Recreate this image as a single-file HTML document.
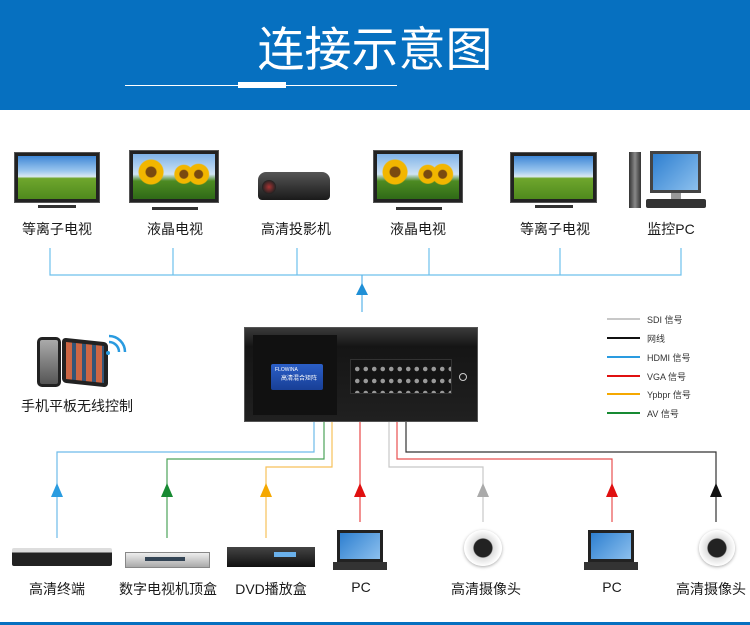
<!DOCTYPE html>
<html><head><meta charset="utf-8">
<style>
*{margin:0;padding:0;box-sizing:border-box}
body{width:750px;height:625px;position:relative;background:#fff;overflow:hidden;font-family:"Liberation Sans","Noto Sans CJK SC",sans-serif;color:#222}
.a{position:absolute}
.lbl{position:absolute;font-size:14px;transform:translateX(-50%);white-space:nowrap;color:#1a1a1a}
.tv{position:absolute;background:#222;border:1px solid #555;padding:3px}
.sky{width:100%;height:100%;background:linear-gradient(#3f87d6 0%,#9cc7ef 35%,#dbe9f3 48%,#6fa62d 52%,#4f8a1d 100%)}
.sun{width:100%;height:100%;background:radial-gradient(circle at 22% 40%,#7a4a10 0 5px,#f2b600 6px 12px,transparent 13px),radial-gradient(circle at 62% 45%,#7a4a10 0 4px,#f2b600 5px 9px,transparent 10px),radial-gradient(circle at 80% 45%,#7a4a10 0 4px,#f2b600 5px 10px,transparent 11px),linear-gradient(#7fb3e8 0%,#cfe3f4 45%,#4d8b22 60%,#2f6a17 100%)}
.stand{position:absolute;height:3px;background:#333}
.leg{position:absolute;left:647px;font-size:9px;color:#333}
.legl{position:absolute;left:607px;width:33px;height:2px}
</style></head><body>
<div class="a" style="left:0;top:0;width:750px;height:110px;background:#0670c0"></div>
<div class="a" style="left:0;top:20px;width:750px;text-align:center;color:#fff;font-size:47px;line-height:52px;font-family:'Noto Sans CJK SC',sans-serif">连接示意图</div>
<div class="a" style="left:125px;top:85px;width:272px;height:1px;background:#fff"></div>
<div class="a" style="left:238px;top:82px;width:48px;height:6px;background:#fff"></div>
<div class="a" style="left:0;top:622px;width:750px;height:3px;background:#0670c0"></div>

<div class="tv" style="left:14px;top:152px;width:86px;height:51px"><div class="sky"></div></div>
<div class="stand" style="left:38px;top:205px;width:38px"></div>
<div class="tv" style="left:129px;top:150px;width:90px;height:53px"><div class="sun"></div></div>
<div class="stand" style="left:152px;top:207px;width:46px"></div>
<div class="a" style="left:258px;top:172px;width:72px;height:28px;background:linear-gradient(#555,#1a1a1a);border-radius:8px 8px 4px 4px"></div>
<div class="a" style="left:262px;top:180px;width:14px;height:14px;border-radius:50%;background:radial-gradient(#a33,#222 70%)"></div>
<div class="tv" style="left:373px;top:150px;width:90px;height:53px"><div class="sun"></div></div>
<div class="stand" style="left:396px;top:207px;width:46px"></div>
<div class="tv" style="left:510px;top:152px;width:87px;height:51px"><div class="sky"></div></div>
<div class="stand" style="left:535px;top:205px;width:38px"></div>
<div class="a" style="left:629px;top:152px;width:12px;height:56px;background:linear-gradient(90deg,#333,#888,#333)"></div>
<div class="a" style="left:650px;top:151px;width:51px;height:42px;background:#444;padding:3px"><div style="width:100%;height:100%;background:linear-gradient(135deg,#2e7fd0,#8cc0ee)"></div></div>
<div class="a" style="left:671px;top:193px;width:10px;height:6px;background:#999"></div>
<div class="a" style="left:646px;top:199px;width:60px;height:9px;background:#333;border-radius:2px"></div>

<div class="lbl" style="left:57px;top:219px">等离子电视</div>
<div class="lbl" style="left:175px;top:219px">液晶电视</div>
<div class="lbl" style="left:296px;top:219px">高清投影机</div>
<div class="lbl" style="left:418px;top:219px">液晶电视</div>
<div class="lbl" style="left:555px;top:219px">等离子电视</div>
<div class="lbl" style="left:671px;top:219px">监控PC</div>

<div class="a" style="left:37px;top:337px;width:24px;height:50px;background:linear-gradient(#aaa,#555);border:3px solid #222;border-radius:5px"></div>
<div class="a" style="left:62px;top:340px;width:46px;height:45px;background:#222;border-radius:4px;transform:skewY(6deg);padding:4px"><div style="width:100%;height:100%;background:repeating-linear-gradient(90deg,#c64 0 6px,#357 6px 10px)"></div></div>
<div class="lbl" style="left:77px;top:396px">手机平板无线控制</div>

<svg class="a" style="left:0;top:0" width="750" height="625">
<g fill="none" stroke-width="1.2">
<path d="M50 248V275H681V248M173 248V275M297 248V275M429 248V275M560 248V275" stroke="#6dc0ec"/>
<path d="M362 275V312" stroke="#5ab4ea"/>
<path d="M314 422V452H57V538" stroke="#6dbbea"/>
<path d="M324 422V459H167V538" stroke="#4ca35a"/>
<path d="M332 422V467H266V538" stroke="#f7c15a"/>
<path d="M360 422V522" stroke="#e84848"/>
<path d="M389 422V467H483V522" stroke="#c8c8c8"/>
<path d="M397 422V459H612V522" stroke="#e85050"/>
<path d="M406 422V452H716V522" stroke="#333"/>
<path d="M109 342a10 10 0 0 1 10 10M109 336a16 16 0 0 1 16 16" stroke="#2a9be0" stroke-width="2.5"/>
</g>
<g>
<path d="M356 295L362 283L368 295Z" fill="#1f8fd6"/>
<path d="M51 497L57 483L63 497Z" fill="#2a9ce0"/>
<path d="M161 497L167 483L173 497Z" fill="#178a32"/>
<path d="M260 497L266 483L272 497Z" fill="#f5a800"/>
<path d="M354 497L360 483L366 497Z" fill="#e01010"/>
<path d="M477 497L483 483L489 497Z" fill="#aaa"/>
<path d="M606 497L612 483L618 497Z" fill="#e01010"/>
<path d="M710 497L716 483L722 497Z" fill="#111"/>
<circle cx="108" cy="353" r="2" fill="#2a9be0"/>
</g>
</svg>

<div class="a" style="left:244px;top:327px;width:234px;height:95px;background:linear-gradient(#3a3a3a,#151515 20%,#202020);border:1px solid #555"></div>
<div class="a" style="left:253px;top:335px;width:84px;height:80px;background:#111"></div>
<div class="a" style="left:271px;top:364px;width:52px;height:26px;background:linear-gradient(#2b5fc8,#183f96);border-radius:2px;color:#fff;font-size:5px;padding:3px 4px">FLOWINA<br><span style="font-size:6px;margin-left:6px">高清混合矩阵</span></div>
<div class="a" style="left:350px;top:359px;width:102px;height:35px;background:#141414;border:1px solid #333;background-image:radial-gradient(circle,#999 0 2px,transparent 2.5px);background-size:8.5px 12px;background-position:2px 3px"></div>
<div class="a" style="left:459px;top:373px;width:8px;height:8px;border-radius:50%;border:1.5px solid #ccc"></div>

<div class="legl" style="top:318px;background:#c8c8c8"></div><div class="leg" style="top:313px">SDI 信号</div>
<div class="legl" style="top:337px;background:#111"></div><div class="leg" style="top:332px">网线</div>
<div class="legl" style="top:356px;background:#2a9be0"></div><div class="leg" style="top:351px">HDMI 信号</div>
<div class="legl" style="top:375px;background:#e01010"></div><div class="leg" style="top:370px">VGA 信号</div>
<div class="legl" style="top:393px;background:#f5a800"></div><div class="leg" style="top:388px">Ypbpr 信号</div>
<div class="legl" style="top:412px;background:#178a32"></div><div class="leg" style="top:407px">AV 信号</div>

<div class="a" style="left:12px;top:548px;width:100px;height:18px;background:linear-gradient(#ddd 0 25%,#222 26%);border-radius:2px"></div>
<div class="a" style="left:125px;top:552px;width:85px;height:16px;background:linear-gradient(#eee,#aaa);border:1px solid #888"></div>
<div class="a" style="left:145px;top:557px;width:40px;height:4px;background:#345"></div>
<div class="a" style="left:227px;top:547px;width:88px;height:20px;background:linear-gradient(#444,#111)"></div>
<div class="a" style="left:274px;top:552px;width:22px;height:5px;background:#6ab0ea"></div>
<div class="a" style="left:337px;top:530px;width:46px;height:32px;background:#222;padding:3px"><div style="width:100%;height:100%;background:linear-gradient(135deg,#2e7fd0,#8cc0ee)"></div></div>
<div class="a" style="left:333px;top:562px;width:54px;height:8px;background:#333"></div>
<div class="a" style="left:588px;top:530px;width:46px;height:32px;background:#222;padding:3px"><div style="width:100%;height:100%;background:linear-gradient(135deg,#2e7fd0,#8cc0ee)"></div></div>
<div class="a" style="left:584px;top:562px;width:54px;height:8px;background:#333"></div>
<div class="a" style="left:464px;top:530px;width:38px;height:36px;border-radius:50%;background:radial-gradient(circle,#222 0 9px,#ddd 10px,#fff 18px);box-shadow:0 1px 3px #aaa"></div>
<div class="a" style="left:699px;top:530px;width:36px;height:36px;border-radius:50%;background:radial-gradient(circle,#222 0 9px,#ddd 10px,#fff 18px);box-shadow:0 1px 3px #aaa"></div>

<div class="lbl" style="left:57px;top:579px">高清终端</div>
<div class="lbl" style="left:168px;top:579px">数字电视机顶盒</div>
<div class="lbl" style="left:271px;top:579px">DVD播放盒</div>
<div class="lbl" style="left:361px;top:579px">PC</div>
<div class="lbl" style="left:486px;top:579px">高清摄像头</div>
<div class="lbl" style="left:612px;top:579px">PC</div>
<div class="lbl" style="left:711px;top:579px">高清摄像头</div>
</body></html>
